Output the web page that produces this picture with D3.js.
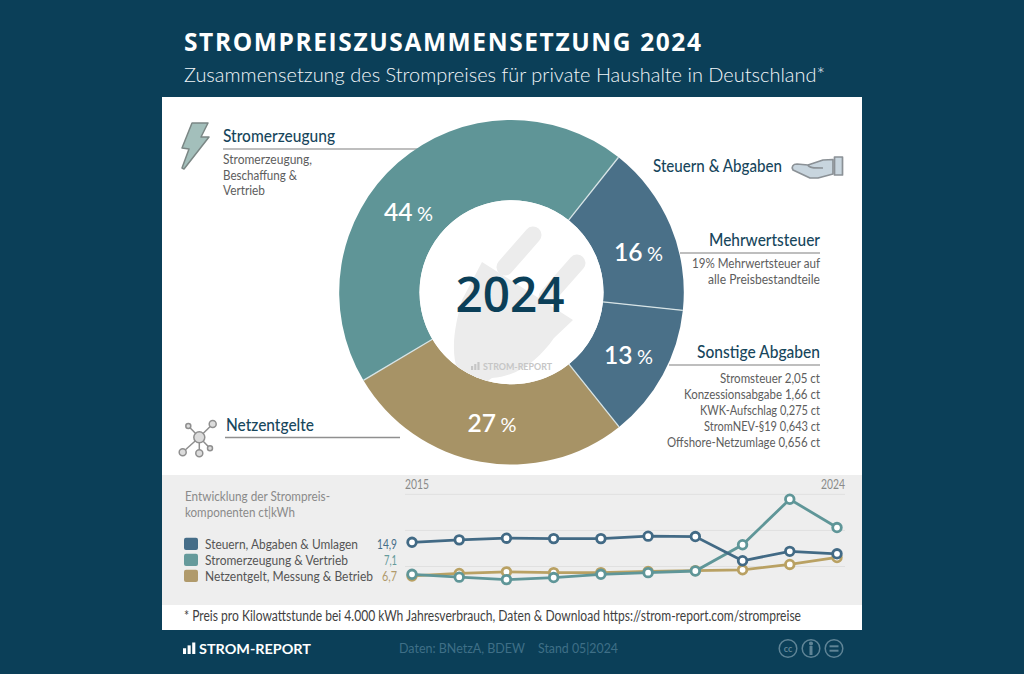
<!DOCTYPE html>
<html lang="de">
<head>
<meta charset="utf-8">
<script src="https://cdn.jsdelivr.net/npm/d3@7"></script>
<style>
  html, body { margin:0; padding:0; background:#0b3f58; }
  svg { display:block; }
  text { font-family:Lato, "Open Sans", sans-serif; }
</style>
</head>
<body>
<svg id="chart" width="1024" height="674"></svg>
<script>
/* --- data ------------------------------------------------------------ */
const shareNames  = ["Mehrwertsteuer", "Sonstige Abgaben", "Netzentgelte", "Stromerzeugung"];
const shareValues = [16, 12.6, 27.2, 44.2];   // slice sizes as drawn, the labels show them rounded

const years        = [2015, 2016, 2017, 2018, 2019, 2020, 2021, 2022, 2023, 2024];
const steuernCt    = [14.9, 15.5, 15.9, 15.8, 15.8, 16.4, 16.3, 10.4, 12.7, 12.1];
const erzeugungCt  = [7.1, 6.4, 5.8, 6.3, 7.1, 7.5, 7.9, 14.3, 25.4, 18.5];
const netzCt       = [6.7, 7.3, 7.7, 7.5, 7.5, 7.8, 8.0, 8.2, 9.5, 11.2];
const gridCt       = [9, 17.8, 26.6];

const legendNames  = ["Steuern, Abgaben & Umlagen", "Stromerzeugung & Vertrieb", "Netzentgelt, Messung & Betrieb"];
const legendValues = ["14,9", "7,1", "6,7"];

const abgabenLines = ["Stromsteuer 2,05 ct", "Konzessionsabgabe 1,66 ct", "KWK-Aufschlag 0,275 ct",
                      "StromNEV-§19 0,643 ct", "Offshore-Netzumlage 0,656 ct"];

/* --- colours --------------------------------------------------------- */
const NAVY = "#0b3f58", BLUE = "#4a7088", TEAL = "#5f9597", TAN = "#a79366";
const RULE = "#a9a9a9", GREY = "#5d5d5d";

const svg = d3.select("#chart");

// text helper: squeeze to the measured width, the original face is condensed
function txt(parent, x, y, s, {size=14, w=null, anchor="start", fill=GREY, weight=400, family=null, adjust="spacingAndGlyphs"} = {}){
  const t = parent.append("text")
    .attr("x", x).attr("y", y)
    .attr("font-size", size)
    .attr("font-weight", weight)
    .attr("text-anchor", anchor)
    .attr("fill", fill)
    .text(s);
  if (family) t.style("font-family", family);
  if (w) t.attr("textLength", w).attr("lengthAdjust", adjust);
  return t;
}

function rule(x1, x2, y, color=RULE){
  svg.append("line").attr("x1",x1).attr("x2",x2).attr("y1",y).attr("y2",y)
     .attr("stroke",color).attr("stroke-width",1.3);
}

/* --- frame ----------------------------------------------------------- */
svg.append("rect").attr("width",1024).attr("height",674).attr("fill",NAVY);
svg.append("rect").attr("x",162).attr("y",97).attr("width",700).attr("height",533).attr("fill","#fff");
svg.append("rect").attr("x",162).attr("y",475).attr("width",700).attr("height",130).attr("fill","#eeeeee");

txt(svg,184,50.5,"STROMPREISZUSAMMENSETZUNG 2024",{size:24.5,w:517,fill:"#fff",weight:700,family:"'Open Sans',sans-serif",adjust:"spacing"});
txt(svg,184,82,"Zusammensetzung des Strompreises für private Haushalte in Deutschland*",{size:20,w:641,fill:"#f2f6f8",weight:300});

/* --- annotation rules run under the donut ----------------------------- */
rule(223,420,149);
rule(680,820,253);
rule(669,820,365);
rule(225,400,437.5,"#8f8f8f");

/* --- donut ----------------------------------------------------------- */
const cx = 511.5, cy = 292.3, rOuter = 172.3, rInner = 92;
const sliceColor = d3.scaleOrdinal(shareNames, [BLUE, BLUE, TAN, TEAL]);

const pie = d3.pie().sort(null).value(d => d.value)
  .startAngle(38.4 * Math.PI/180)
  .endAngle((38.4 + 360) * Math.PI/180);
const arc = d3.arc().innerRadius(rInner).outerRadius(rOuter);
const slices = pie(shareNames.map((name,i) => ({name, value:shareValues[i]})));

const donut = svg.append("g").attr("transform",`translate(${cx},${cy})`);
donut.selectAll("path").data(slices).join("path")
    .attr("d", arc)
    .attr("fill", d => sliceColor(d.data.name));
donut.selectAll("line").data(slices).join("line")
    .attr("x1", d => rInner*Math.sin(d.startAngle))
    .attr("y1", d => -rInner*Math.cos(d.startAngle))
    .attr("x2", d => rOuter*Math.sin(d.startAngle))
    .attr("y2", d => -rOuter*Math.cos(d.startAngle))
    .attr("stroke","#d7e4e6")
    .attr("stroke-width",1.3);

// hole with the plug watermark
svg.append("clipPath").attr("id","hole")
   .append("circle").attr("cx",cx).attr("cy",cy).attr("r",rInner);
svg.append("circle").attr("cx",cx).attr("cy",cy).attr("r",rInner).attr("fill","#fff");

const plug = svg.append("g").attr("clip-path","url(#hole)").attr("fill","#ececec");
plug.append("path").attr("d","M482,262 L573,320 L554,338 C540,358 520,376 492,378 L472,392 L462,420 L440,400 L458,372 C450,350 455,325 462,300 Z");
plug.append("line").attr("x1",505).attr("y1",267).attr("x2",533).attr("y2",235)
    .attr("stroke","#ececec").attr("stroke-width",17).attr("stroke-linecap","round");
plug.append("line").attr("x1",547).attr("y1",297).attr("x2",577).attr("y2",263)
    .attr("stroke","#ececec").attr("stroke-width",17).attr("stroke-linecap","round");

txt(svg,cx-1.5,312,"2024",{size:48,fill:NAVY,weight:600,anchor:"middle",family:"'Open Sans',sans-serif",w:109});

function logoBars(g, x, base, h, color){
  [0.5,0.75,1].forEach((k,i) => {
    g.append("rect").attr("x",x+i*h*0.4).attr("y",base-h*k)
     .attr("width",h*0.27).attr("height",h*k).attr("fill",color);
  });
}
logoBars(svg,471,370,8,"#c6c6c6");
txt(svg,483,370,"STROM-REPORT",{size:9.5,w:69,fill:"#c6c6c6",weight:700});

// percentage labels, not centred on the slices in the original
const pctPos = [[614,261],[604,364],[467.5,431.5],[384,220.5]];
shareValues.forEach((v,i) => {
  const [x,y] = pctPos[i];
  txt(svg,x,y,Math.round(v),{size:24,w:28.5,fill:"#fff",weight:600});
  txt(svg,x+33,y,"%",{size:19,w:16,fill:"#fff"});
});

/* --- annotations ----------------------------------------------------- */
const HEAD = "#17465c";
// Stromerzeugung
txt(svg,223,142,"Stromerzeugung",{size:18,w:112,fill:HEAD,weight:500});
txt(svg,223,164,"Stromerzeugung,",{size:13.5,w:89});
txt(svg,223,180,"Beschaffung &",{size:13.5,w:74});
txt(svg,223,195,"Vertrieb",{size:13.5,w:42});

// Steuern & Abgaben
txt(svg,653,172,"Steuern & Abgaben",{size:18,w:129,fill:HEAD,weight:500});

txt(svg,820,246,"Mehrwertsteuer",{size:18,w:111,anchor:"end",fill:HEAD,weight:500});
txt(svg,820,268,"19% Mehrwertsteuer auf",{size:13.5,w:128,anchor:"end"});
txt(svg,820,284,"alle Preisbestandteile",{size:13.5,w:112,anchor:"end"});

txt(svg,820,358,"Sonstige Abgaben",{size:18,w:123,anchor:"end",fill:HEAD,weight:500});
const abgabenWidth = [100,136,120,116,153];
abgabenLines.forEach((s,i) => txt(svg,820,383+i*16,s,{size:13.5,w:abgabenWidth[i],anchor:"end"}));

txt(svg,226,431,"Netzentgelte",{size:18,w:88,fill:HEAD,weight:500});

/* --- icons ----------------------------------------------------------- */
svg.append("path")
   .attr("d","M192,123 L208,123 L201,137 L209,137 L184,169 L182,168 L189,149 L182,148 Z")
   .attr("fill","#a3bfbb").attr("stroke","#7b8785").attr("stroke-width",1.5).attr("stroke-linejoin","round");

const hand = svg.append("g").attr("fill","#c8d5de").attr("stroke","#8b9196").attr("stroke-width",1.7).attr("stroke-linejoin","round");
hand.append("path").attr("d","M833,159.5 L823,160 L808,165 L797,164 C793,164 791,167 793,170 L810,178 L818,178 L833,174 Z");
hand.append("path").attr("d","M808,165 C809,168 814,168 823,168").attr("fill","none");
hand.append("rect").attr("x",834.5).attr("y",157).attr("width",8).attr("height",18);

const net = svg.append("g").attr("stroke","#8f8f8f").attr("stroke-width",1.5);
const netHub = [199.3,437.3];
const netNodes = [[212.7,424,3.5],[188.3,426,2.5],[182.7,452.3,3.5],[199.3,453.3,3.5],[210,448.3,2.5]];
netNodes.forEach(([x,y,r]) => {
  net.append("line").attr("x1",netHub[0]).attr("y1",netHub[1]).attr("x2",x).attr("y2",y);
  net.append("circle").attr("cx",x).attr("cy",y).attr("r",r).attr("fill","#dcdcdc");
});
net.append("circle").attr("cx",netHub[0]).attr("cy",netHub[1]).attr("r",5.5).attr("fill","#dcdcdc");

/* --- trend panel ------------------------------------------------------ */
const x = d3.scalePoint(years,[412,837]);
const y = d3.scaleLinear([0,30],[603.4,480.4]);

svg.append("g").selectAll("line").data(gridCt).join("line")
   .attr("x1",405).attr("x2",845)
   .attr("y1",d => y(d)).attr("y2",d => y(d))
   .attr("stroke","#e0e0e0").attr("stroke-width",1);

const LABEL = "#8a8a8a";
txt(svg,405,489,years[0],{size:13,w:24,fill:LABEL});
txt(svg,845,489,years[years.length-1],{size:13,w:24,anchor:"end",fill:LABEL});
txt(svg,185,501,"Entwicklung der Strompreis-",{size:13.5,w:145,fill:LABEL});
txt(svg,185,517,"komponenten ct|kWh",{size:13.5,w:110,fill:LABEL});

const series = [
  {values:netzCt,      color:"#b9a163"},
  {values:erzeugungCt, color:"#5f9698"},
  {values:steuernCt,   color:"#426a85"},
];
const line = d3.line().x((d,i) => x(years[i])).y(d => y(d));
series.forEach(s => {
  const g = svg.append("g");
  g.append("path").attr("d",line(s.values)).attr("fill","none")
   .attr("stroke",s.color).attr("stroke-width",2.8);
  g.selectAll("circle").data(s.values).join("circle")
   .attr("cx",(d,i) => x(years[i])).attr("cy",d => y(d)).attr("r",4.3)
   .attr("fill","#fff").attr("stroke",s.color).attr("stroke-width",2.8);
});

const legendColor = ["#456d88","#659a9b","#b09a6b"];
const legendWidth = [153,143,168];
const legendValueWidth = [20,13,15];
const legendBase = [549,565,581];
legendNames.forEach((s,i) => {
  svg.append("rect").attr("x",184).attr("y",legendBase[i]-11.3).attr("width",14).attr("height",12.4)
     .attr("rx",2).attr("fill",legendColor[i]);
  txt(svg,205,legendBase[i],s,{size:12.5,w:legendWidth[i],fill:"#555"});
  txt(svg,397,legendBase[i],legendValues[i],{size:13,w:legendValueWidth[i],anchor:"end",fill:legendColor[i]});
});

txt(svg,184,621,"* Preis pro Kilowattstunde bei 4.000 kWh Jahresverbrauch, Daten & Download https://strom-report.com/strompreise",{size:14.5,w:617,fill:"#3f3f3f"});

/* --- footer ----------------------------------------------------------- */
logoBars(svg,183,654,11.5,"#fff");
txt(svg,199,654,"STROM-REPORT",{size:14,w:112,fill:"#fff",weight:700});
txt(svg,399,653,"Daten: BNetzA, BDEW",{size:14,w:126,fill:"#3f6f87"});
txt(svg,538,653,"Stand 05|2024",{size:14,w:80,fill:"#3f6f87"});

const CC = "#5f8496";
const cc = svg.append("g").attr("fill","none").attr("stroke",CC).attr("stroke-width",1.5);
[788,811,834].forEach(cxIcon => cc.append("circle").attr("cx",cxIcon).attr("cy",648.5).attr("r",8.8));
txt(svg,788,651.5,"cc",{size:9,anchor:"middle",fill:CC,weight:700});
cc.append("circle").attr("cx",811).attr("cy",643.5).attr("r",1.3).attr("fill",CC);
cc.append("line").attr("x1",811).attr("x2",811).attr("y1",646).attr("y2",655).attr("stroke-width",3);
cc.append("line").attr("x1",829.5).attr("x2",838.5).attr("y1",646.3).attr("y2",646.3).attr("stroke-width",2);
cc.append("line").attr("x1",829.5).attr("x2",838.5).attr("y1",650.7).attr("y2",650.7).attr("stroke-width",2);
</script>
</body>
</html>
